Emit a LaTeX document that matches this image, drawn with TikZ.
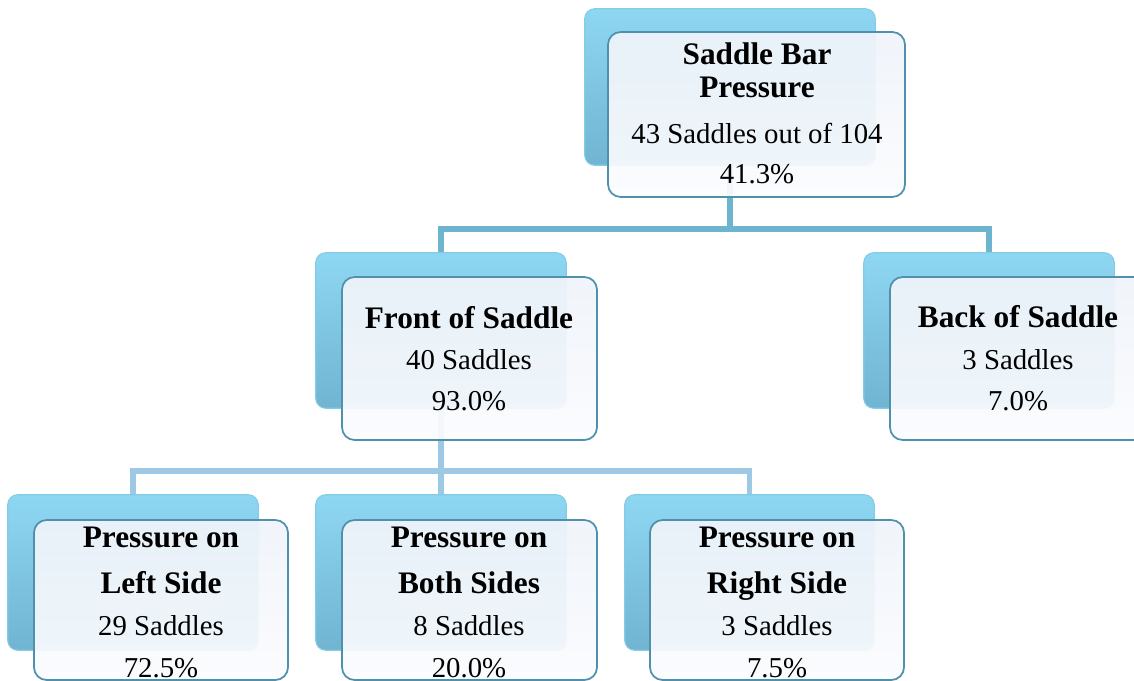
\documentclass[tikz,border=0pt]{standalone}
\usepackage{fontspec}
\setmainfont{Liberation Serif}
\usetikzlibrary{fit}
\definecolor{backtop}{HTML}{8ED7F2}
\definecolor{backbot}{HTML}{70B4D2}
\definecolor{backedge}{HTML}{84CBE6}
\definecolor{fronttop}{HTML}{F0F4FA}
\definecolor{frontbot}{HTML}{FBFCFE}
\definecolor{frontedge}{HTML}{4F90AD}
\definecolor{connA}{HTML}{6DB5CE}
\definecolor{connB}{HTML}{9DC9E4}
\tikzset{
  backbox/.style={rounded corners=7.5pt, top color=backtop, bottom color=backbot, draw=backedge, line width=0.8pt, inner sep=0pt},
  frontbox/.style={rounded corners=9.5pt, top color=fronttop, bottom color=frontbot, fill opacity=0.93, draw=frontedge, line width=1.3pt, inner sep=0pt},
  bt/.style={anchor=base, inner sep=0pt, font=\fontsize{23.5pt}{26pt}\selectfont\bfseries},
  rt/.style={anchor=base, inner sep=0pt, font=\fontsize{21.6pt}{24pt}\selectfont},
  connone/.style={draw=connA, line width=4.5pt, line join=miter},
  conntwo/.style={draw=connB, line width=3.9pt, line join=miter}
}
\begin{document}
\begin{tikzpicture}[x=0.75pt,y=-0.75pt]
\useasboundingbox (0,0) rectangle (1134,681);
\clip (0,0) rectangle (1134,681);
\fill[white] (0,0) rectangle (1134,681);

% invisible placeholders for back boxes (for connector anchors)
\path node[inner sep=0pt, fit={(585,9) (875,165)}] (tb) {}
      node[inner sep=0pt, fit={(316,253) (566,408)}] (mlb) {}
      node[inner sep=0pt, fit={(864,253) (1114,408)}] (mrb) {}
      node[inner sep=0pt, fit={(8,495) (258,650)}] (blb) {}
      node[inner sep=0pt, fit={(316,495) (566,650)}] (bmb) {}
      node[inner sep=0pt, fit={(625,495) (874,650)}] (brb) {};

% connectors
\coordinate (j1) at (730,229);
\coordinate (j2) at (441,471);
\draw[connone] (tb.south) -- (tb.south |- j1);
\draw[connone] (mlb.north) |- (j1) -| (mrb.north);
\draw[conntwo] (mlb.south) -- (bmb.north);
\draw[conntwo] (blb.north) |- (j2) -| (brb.north);

% back boxes
\foreach \n in {tb,mlb,mrb,blb,bmb,brb}{
  \path[backbox] (\n.north west) rectangle (\n.south east);
}

% front boxes
\node[frontbox, fit={(608,32) (905,197)}] (tf) {};
\node[frontbox, fit={(342,277) (597,440)}] (mlf) {};
\node[frontbox, fit={(890,277) (1146,440)}] (mrf) {};
\node[frontbox, fit={(34,520) (288,680)}] (blf) {};
\node[frontbox, fit={(342,520) (597,680)}] (bmf) {};
\node[frontbox, fit={(650,520) (904,680)}] (brf) {};

% texts
\node[bt] (t1) at (757,65) {Saddle Bar};
\node[bt] (t2) at (757,98) {Pressure};
\node[rt] (t3) at (757,143) {43 Saddles out of 104};
\node[rt] (t4) at (757,183) {41.3\%};

\node[bt] (m1) at (469,328) {Front of Saddle};
\node[rt] (m2) at (469,369) {40 Saddles};
\node[rt] (m3) at (469,410) {93.0\%};

\node[bt] (r1) at (1018,327) {Back of Saddle};
\node[rt] (r2) at (1018,369) {3 Saddles};
\node[rt] (r3) at (1018,410) {7.0\%};

\node[bt] (a1) at (161,547) {Pressure on};
\node[bt] (a2) at (161,593) {Left Side};
\node[rt] (a3) at (161,635) {29 Saddles};
\node[rt] (a4) at (161,677) {72.5\%};

\node[bt] (b1) at (469,547) {Pressure on};
\node[bt] (b2) at (469,593) {Both Sides};
\node[rt] (b3) at (469,635) {8 Saddles};
\node[rt] (b4) at (469,677) {20.0\%};

\node[bt] (c1) at (777,547) {Pressure on};
\node[bt] (c2) at (777,593) {Right Side};
\node[rt] (c3) at (777,635) {3 Saddles};
\node[rt] (c4) at (777,677) {7.5\%};
\end{tikzpicture}
\end{document}
